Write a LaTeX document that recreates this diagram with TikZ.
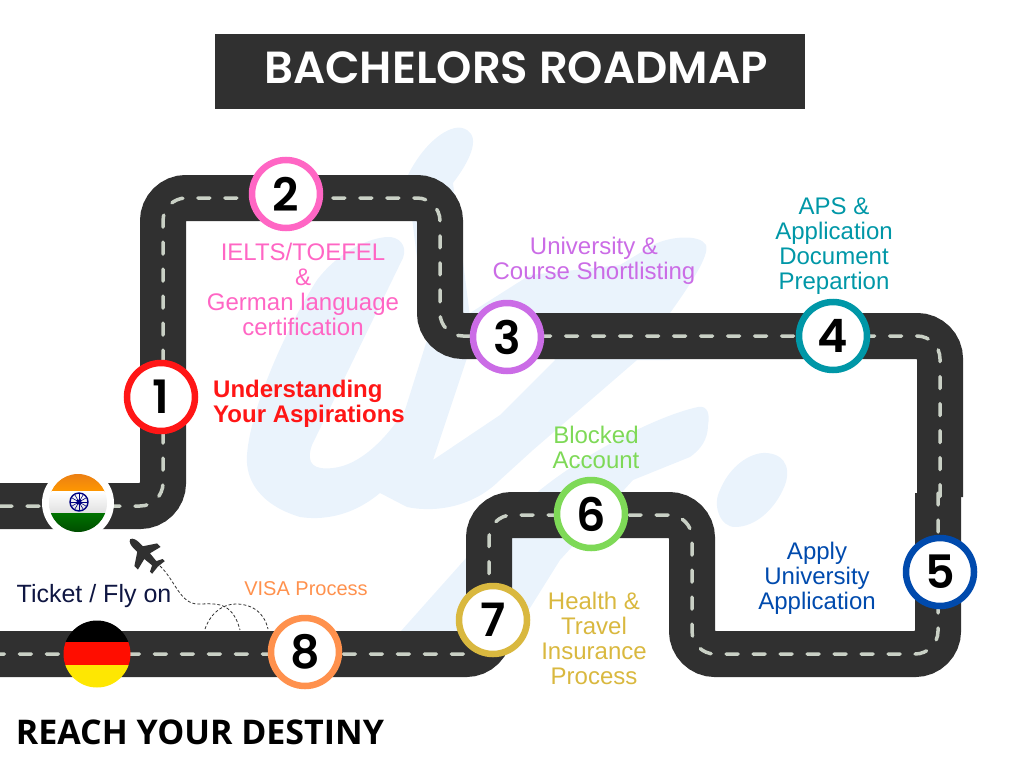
\documentclass[tikz,border=0pt]{standalone}
\usepackage{fontspec}
\setmainfont{Liberation Sans}
\newfontfamily\numfont{Poppins SemiBold}
\newfontfamily\headfont{Open Sans}
\usetikzlibrary{calc}

\definecolor{roadgray}{HTML}{303030}
\definecolor{lanegray}{HTML}{C9D0C5}
\definecolor{markblue}{HTML}{EAF3FC}
\definecolor{navyink}{HTML}{0F1642}
\definecolor{mRed}{HTML}{FF1616}
\definecolor{mPink}{HTML}{FF66C4}
\definecolor{mPurple}{HTML}{CB6CE6}
\definecolor{mTeal}{HTML}{0097A7}
\definecolor{mBlue}{HTML}{004AAD}
\definecolor{mGreen}{HTML}{7ED957}
\definecolor{mGold}{HTML}{D9B83F}
\definecolor{mOrange}{HTML}{FF914D}

\tikzset{
 roadbase/.style={draw=roadgray, line width=46pt, rounded corners=23pt},
 roadlane/.style={draw=lanegray, line width=3.5pt, rounded corners=23pt, line cap=round, dash pattern=on 12pt off 15pt},
 stopring/.style={circle, draw=#1, line width=6.5pt, fill=white, minimum size=68pt, inner sep=0pt, font=\numfont\fontsize{46}{46}\selectfont},
 steplabel/.style={text=#1, align=center, font=\fontsize{24}{25}\selectfont},
}

\begin{document}
\begin{tikzpicture}[x=1pt,y=-1pt]
\useasboundingbox (0,0) rectangle (1024,768);
% watermark
\fill[markblue] (387,237) .. controls (398,236) and (408,245) .. (403,258) -- (363,340) -- (312,445) .. controls (305,465) and (315,470) .. (333,468) .. controls (360,465) and (385,440) .. (405,410) -- (427,340) -- (407,177) .. controls (425,140) and (450,125) .. (462,128) .. controls (478,132) and (478,150) .. (453,183) -- (473,340) -- (433,460) -- (500,415) -- (555,360) -- (537,313) -- (625,283) -- (603,313) -- (637,360) -- (533,450) -- (500,480) .. controls (470,510) and (430,512) .. (407,507) -- (380,493) .. controls (350,518) and (320,520) .. (300,517) .. controls (260,505) and (245,480) .. (247,455) .. controls (250,410) and (285,330) .. (317,280) .. controls (340,250) and (370,238) .. (387,237) -- cycle;
\fill[markblue] (470,313) -- (530,275) -- (620,265) -- (653,245) .. controls (670,236) and (700,234) .. (706,245) .. controls (710,255) and (690,285) .. (670,313) -- (670,360) -- (637,360) -- (555,360) -- (537,313) -- (470,313) -- cycle;
\fill[markblue] (698,407) .. controls (708,405) and (710,415) .. (708,425) .. controls (708,440) and (700,450) .. (690,457) -- (633,480) -- (560,560) -- (510,640) -- (393,640) -- (467,557) -- (540,490) .. controls (590,450) and (660,415) .. (698,407) -- cycle;
\fill[markblue] (762,453) .. controls (782,452) and (792,465) .. (785,485) .. controls (775,510) and (755,527) .. (735,527) .. controls (720,527) and (712,505) .. (720,490) .. controls (728,470) and (745,455) .. (762,453) -- cycle;
% title
\fill[roadgray] (215,34) rectangle (805,109);
\node[text=white, font=\numfont\fontsize{45}{45}\selectfont] (title) at (516,68) {BACHELORS ROADMAP};
% road points
\coordinate (r0) at (0,506);
\coordinate (r1) at (163,506);
\coordinate (r2) at (163,198);
\coordinate (r3) at (440,198);
\coordinate (r4) at (440,336);
\coordinate (r5) at (940,336);
\coordinate (r6) at (940,497);
\coordinate (q6) at (938,493);
\coordinate (q7) at (938,654);
\coordinate (r7) at (692,654);
\coordinate (r8) at (692,515);
\coordinate (r9) at (489,515);
\coordinate (r10) at (489,654);
\coordinate (r11) at (0,654);
\draw[roadbase] (r0)--(r1)--(r2)--(r3)--(r4)--(r5)--(r6);
\draw[roadbase] (q6)--(q7)--(r7)--(r8)--(r9)--(r10)--(r11);
\draw[roadlane] (r0)--(r1)--(r2)--(r3)--(r4)--(r5)--(r6);
\draw[roadlane] (q6)--(q7)--(r7)--(r8)--(r9)--(r10)--(r11);
% stops
\node[stopring=mRed] (s1) at (161,397) {1};
\node[stopring=mPink] (s2) at (286,194) {2};
\node[stopring=mPurple] (s3) at (507,337) {3};
\node[stopring=mTeal] (s4) at (833,336) {4};
\node[stopring=mBlue] (s5) at (940,572) {5};
\node[stopring=mGreen] (s6) at (591,514) {6};
\node[stopring=mGold] (s7) at (493,620) {7};
\node[stopring=mOrange] (s8) at (305,652) {8};
% labels
\node[text=mRed, align=left, font=\fontsize{24}{25}\selectfont\bfseries] (l1) at (309,404) {Understanding\\Your Aspirations};
\node[steplabel=mPink] (l2) at (303,289) {IELTS/TOEFEL\\\&\\German language\\certification};
\node[steplabel=mPurple] (l3) at (594,261) {University \&\\Course Shortlisting};
\node[steplabel=mTeal] (l4) at (834,246) {APS \&\\Application\\Document\\Prepartion};
\node[steplabel=mBlue] (l5) at (817,578) {Apply\\University\\Application};
\node[steplabel=mGreen] (l6) at (596,447) {Blocked\\Account};
\node[steplabel=mGold] (l7) at (594,638) {Health \&\\Travel\\Insurance\\Process};
\node[text=mOrange, font=\fontsize{20}{20}\selectfont] (l8) at (306,589) {VISA Process};
\node[text=navyink, font=\fontsize{25}{25}\selectfont] (fly) at (94,596) {Ticket / Fly on};
\node[text=black, font=\headfont\fontsize{34}{34}\selectfont\bfseries] (dest) at (200,732) {REACH YOUR DESTINY};
% india
\fill[white] (78,503) circle (36);
\begin{scope}
\clip (78,503) circle (29);
\shade[top color=orange!70!brown, bottom color=orange!80!yellow] (49,474) rectangle (107,492);
\shade[top color=white, bottom color=white!88!black] (49,491) rectangle (107,513);
\shade[top color=green!45!black, bottom color=green!30!black] (49,513) rectangle (107,532);
\draw[blue!50!black, line width=1.4pt] (79,502) circle (9);
\fill[blue!50!black] (79,502) circle (2.5);
\foreach \a in {0,30,...,330} {
 \draw[blue!50!black, line width=.6pt] (79,502) --++(\a:9);
}
\end{scope}
% germany
\begin{scope}
\clip (97,654) circle (33.5);
\fill[black] (60,620) rectangle (135,642);
\fill[red!90!orange] (60,642) rectangle (135,665);
\fill[yellow!90!orange] (60,665) rectangle (135,690);
\end{scope}
% plane
\coordinate (tail) at (160,566);
\fill[roadgray, shift={(145,554)}, rotate=-45]
 (-21,0) .. controls (-20,-3) and (-16,-4) .. (-12,-4) -- (-7,-4) -- (1,-16) -- (6,-16) -- (3,-4) -- (13,-3) -- (16,-9) -- (19,-9) -- (18,0) -- (19,9) -- (16,9) -- (13,3) -- (3,4) -- (6,16) -- (1,16) -- (-7,4) -- (-12,4) .. controls (-16,4) and (-20,3) .. (-21,0) -- cycle;
% flight path
\coordinate (p1) at (205,629);
\coordinate (p2) at (240,630);
\coordinate (p3) at (268,629);
\draw[roadgray, densely dashed, line width=.8pt] (tail) .. controls (175,580) and (180,604) .. (198,604) .. controls (215,604) and (232,600) .. (p2);
\draw[roadgray, densely dashed, line width=.8pt] (p1) .. controls (212,610) and (225,604) .. (236,604) .. controls (252,604) and (264,612) .. (p3);
\end{tikzpicture}
\end{document}
